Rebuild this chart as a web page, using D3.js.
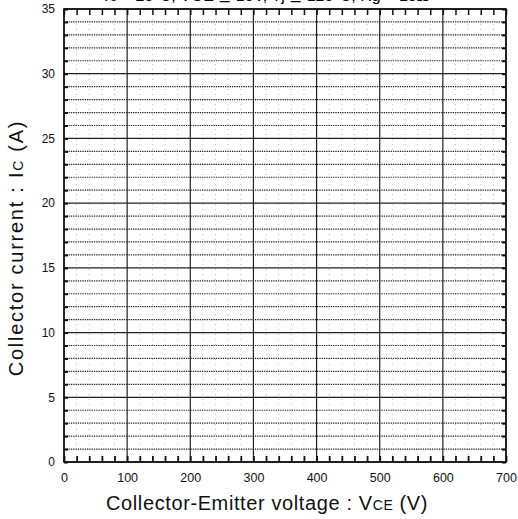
<!DOCTYPE html>
<html>
<head>
<meta charset="utf-8">
<script src="https://cdn.jsdelivr.net/npm/d3@7"></script>
<style>
  body { margin: 0; background: #fff; }
  svg { font-family: "Liberation Sans", Arial, sans-serif; }
</style>
</head>
<body>
<div id="chart"></div>
<script>
// Datos del grafico (rejilla vacia de hoja de datos)
const xMajor = [0, 100, 200, 300, 400, 500, 600, 700];
const yMajor = [0, 5, 10, 15, 20, 25, 30, 35];
const xMinorStep = 20;
const yMinorStep = 1;
const titleText = "Tc = 25°C, VGE ≦ 15V, Tj ≦ 125°C, Rg = 10Ω";

// Margenes y tamaños
var margin = { top: 9, right: 12, bottom: 57, left: 64 },
    width = 518 - margin.left - margin.right,
    height = 519 - margin.top - margin.bottom;

var x = d3.scaleLinear().domain([0, 700]).range([0, width]);
var y = d3.scaleLinear().domain([0, 35]).range([height, 0]);

var svg = d3.select("#chart").append("svg")
    .attr("width", 518)
    .attr("height", 519);

// Titulo cortado arriba (igual que en el original escaneado)
svg.append("text")
    .attr("x", 265)
    .attr("y", 0.5)
    .style("text-anchor", "middle")
    .style("font-size", "16px")
    .text(titleText);

var g = svg.append("g")
    .attr("transform", "translate(" + margin.left + "," + margin.top + ")");

var xMinor = d3.range(0, 701, xMinorStep).filter(d => d % 100 !== 0);
var yMinor = d3.range(0, 36, yMinorStep).filter(d => d % 5 !== 0);

// Lineas verticales menores (punteadas, tenues)
g.selectAll(".vminor")
    .data(xMinor)
    .enter().append("line")
    .attr("x1", d => x(d)).attr("x2", d => x(d))
    .attr("y1", 0).attr("y2", height)
    .style("stroke", "#aaa")
    .style("stroke-width", 0.8)
    .style("stroke-dasharray", "1,4");

// Lineas horizontales menores (punteadas)
g.selectAll(".hminor")
    .data(yMinor)
    .enter().append("line")
    .attr("x1", 0).attr("x2", width)
    .attr("y1", d => y(d)).attr("y2", d => y(d))
    .style("stroke", "#222")
    .style("stroke-width", 1.2)
    .style("stroke-dasharray", "1.3,1");

// Lineas mayores
g.selectAll(".vmajor")
    .data(xMajor)
    .enter().append("line")
    .attr("x1", d => x(d)).attr("x2", d => x(d))
    .attr("y1", 0).attr("y2", height)
    .style("stroke", "#222")
    .style("stroke-width", 1.2);

g.selectAll(".hmajor")
    .data(yMajor)
    .enter().append("line")
    .attr("x1", 0).attr("x2", width)
    .attr("y1", d => y(d)).attr("y2", d => y(d))
    .style("stroke", "#222")
    .style("stroke-width", 1.3);

// Marcas internas en los cuatro lados
var xTickVals = d3.range(0, 701, xMinorStep);
var yTickVals = d3.range(0, 36, yMinorStep);

g.append("g")
    .attr("transform", "translate(0," + height + ")")
    .call(d3.axisTop(x).tickValues(xTickVals).tickSize(6).tickFormat(""))
    .call(a => a.select(".domain").remove())
    .selectAll("line").style("stroke", "#111").style("stroke-width", 1.8);

g.append("g")
    .call(d3.axisBottom(x).tickValues(xTickVals).tickSize(6).tickFormat(""))
    .call(a => a.select(".domain").remove())
    .selectAll("line").style("stroke", "#111").style("stroke-width", 1.5);

g.append("g")
    .call(d3.axisRight(y).tickValues(yTickVals).tickSize(4).tickFormat(""))
    .call(a => a.select(".domain").remove())
    .selectAll("line").style("stroke", "#111").style("stroke-width", 2);

g.append("g")
    .attr("transform", "translate(" + width + ",0)")
    .call(d3.axisLeft(y).tickValues(yTickVals).tickSize(4).tickFormat(""))
    .call(a => a.select(".domain").remove())
    .selectAll("line").style("stroke", "#111").style("stroke-width", 2);

// Borde
g.append("rect")
    .attr("width", width).attr("height", height)
    .style("fill", "none")
    .style("stroke", "#111")
    .style("stroke-width", 1.6);

// Etiquetas de los ejes (numeros)
var xAxis = g.append("g")
    .attr("transform", "translate(0," + height + ")")
    .call(d3.axisBottom(x).tickValues(xMajor).tickSize(0).tickPadding(11));
xAxis.select(".domain").remove();
xAxis.selectAll("text").style("font-size", "12.5px").style("fill", "#111")
    .style("font-family", "'Liberation Sans', Arial, sans-serif");

var yAxis = g.append("g")
    .call(d3.axisLeft(y).tickValues(yMajor).tickSize(0).tickPadding(9));
yAxis.select(".domain").remove();
yAxis.selectAll("text").style("font-size", "12px").style("fill", "#111")
    .style("font-family", "'Liberation Sans', Arial, sans-serif");

// Ajustar el espaciado para que el texto ocupe el ancho deseado
function fitText(t, target) {
    var n = t.text().length;
    var len = t.node().getComputedTextLength();
    var ls = Math.max(0, (target - len) / n);
    t.style("letter-spacing", ls + "px");
}

// Titulos de los ejes
var xl = svg.append("text")
    .attr("x", 267)
    .attr("y", 510)
    .style("text-anchor", "middle")
    .style("font-size", "20px")
    .style("fill", "#111");
xl.append("tspan").text("Collector-Emitter voltage : V");
xl.append("tspan").style("font-size", "14px").text("CE");
xl.append("tspan").text(" (V)");
fitText(xl, 322);

var yl = svg.append("text")
    .attr("transform", "translate(23,248) rotate(-90)")
    .style("text-anchor", "middle")
    .style("font-size", "20px")
    .style("fill", "#111");
yl.append("tspan").text("Collector current  :  I");
yl.append("tspan").style("font-size", "14px").text("C");
yl.append("tspan").text(" (A)");
fitText(yl, 260);
</script>
</body>
</html>
